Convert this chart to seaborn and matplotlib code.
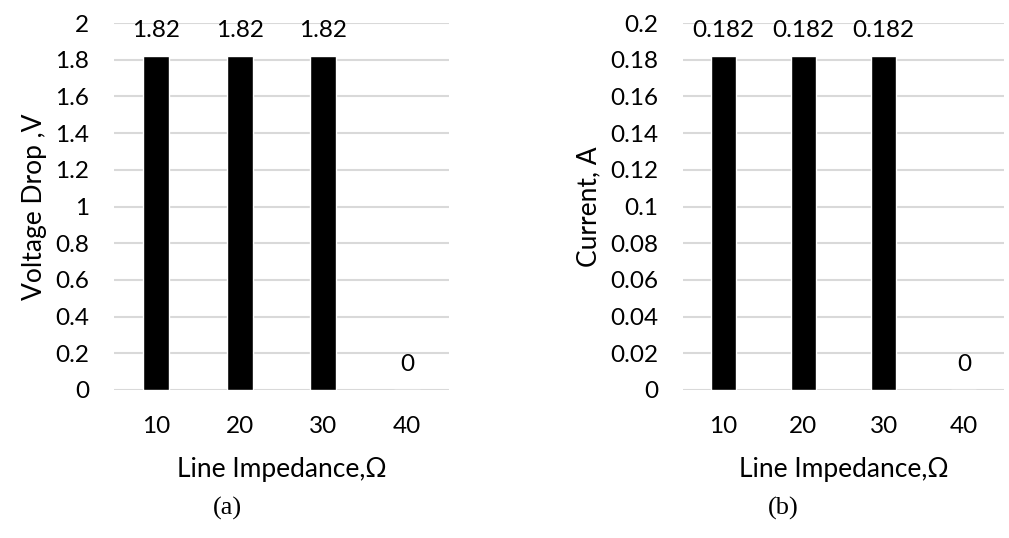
import matplotlib
matplotlib.use("Agg")
import matplotlib.pyplot as plt
import seaborn as sns
import pandas as pd

impedance = ["10", "20", "30", "40"]
voltage_drop = [1.82, 1.82, 1.82, 0.0]
current = [0.182, 0.182, 0.182, 0.0]
voltage_labels = ["1.82", "1.82", "1.82", "0"]
current_labels = ["0.182", "0.182", "0.182", "0"]
v_ticks = [0, 0.2, 0.4, 0.6, 0.8, 1.0, 1.2, 1.4, 1.6, 1.8, 2.0]
v_ticklabels = ["0", "0.2", "0.4", "0.6", "0.8", "1", "1.2", "1.4", "1.6", "1.8", "2"]
c_ticks = [0, 0.02, 0.04, 0.06, 0.08, 0.10, 0.12, 0.14, 0.16, 0.18, 0.20]
c_ticklabels = ["0", "0.02", "0.04", "0.06", "0.08", "0.1", "0.12", "0.14", "0.16", "0.18", "0.2"]

sns.set_theme(style="white")
plt.rcParams['font.family'] = ['Lato', 'DejaVu Sans']

W, H = 1009, 538
fig = plt.figure(figsize=(W / 100, H / 100), dpi=100)

FS = 17.5
LFS = 19
GRID = "#d9d9d9"
TXT = "#000000"


def panel(rect, values, labels, ticks, ticklabels, ylabel, ymax, tag, tagx):
    ax = fig.add_axes(rect)
    df = pd.DataFrame({"imp": impedance, "val": values})
    sns.barplot(data=df, x="imp", y="val", color="black", width=0.31,
                saturation=1, ax=ax, zorder=3)
    ax.set_xlim(-0.5, 3.5)
    ax.set_ylim(0, ymax)
    ax.set_yticks(ticks)
    ax.set_yticklabels(ticklabels)
    for t in ticks:
        ax.axhline(t, color=GRID, lw=1.5, zorder=1)
    for s in ax.spines.values():
        s.set_visible(False)
    ax.tick_params(axis="y", length=0, pad=18, labelsize=FS, labelcolor=TXT)
    ax.tick_params(axis="x", length=0, pad=19, labelsize=FS, labelcolor=TXT)
    ax.set_xlabel("Line Impedance,Ω", fontsize=LFS, color=TXT, labelpad=14)
    ax.set_ylabel(ylabel, fontsize=LFS, color=TXT, labelpad=6)
    ax.bar_label(ax.containers[0], labels=labels, padding=11, fontsize=FS, color=TXT)
    fig.text(tagx / W, 1 - 508 / H, tag, ha="center", va="center",
             fontsize=19, family="Liberation Serif", color=TXT)
    return ax


panel([114 / W, 148 / H, 335 / W, 367 / H], voltage_drop, voltage_labels,
      v_ticks, v_ticklabels, "Voltage Drop ,V", 2.0, "(a)", 227)
panel([683 / W, 148 / H, 321 / W, 367 / H], current, current_labels,
      c_ticks, c_ticklabels, "Current, A", 0.2, "(b)", 783)

fig.savefig("out.png", dpi=100, facecolor="white")
